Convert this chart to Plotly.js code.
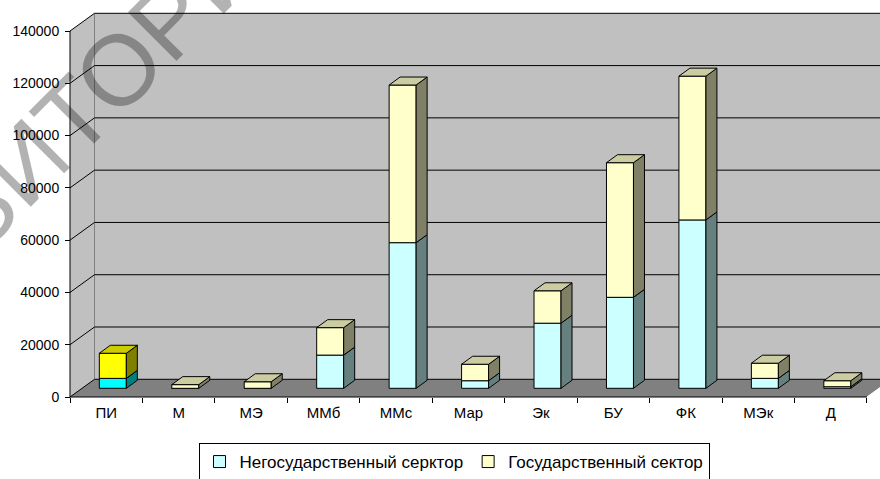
<!DOCTYPE html>
<html>
<head>
<meta charset="utf-8">
<script src="https://cdn.plot.ly/plotly-3.0.1.min.js"></script>
<style>
  html, body { margin: 0; padding: 0; background: #ffffff; }
  #chart { width: 880px; height: 479px; }
</style>
</head>
<body>
<div id="chart"></div>
<script>
// Students by programme, split by sector
const categories = ['ПИ', 'М', 'МЭ', 'ММб', 'ММс', 'Мар', 'Эк', 'БУ', 'ФК', 'МЭк', 'Д'];
const nonStateValues = [3800, 0, 0, 12700, 55700, 2900, 24900, 34800, 64400, 3800, 600];
const stateValues = [9600, 1400, 2500, 10500, 60300, 6300, 12400, 51500, 55000, 5800, 2300];
const highlightedCategories = ['ПИ'];
const seriesNames = ['Негосударственный серктор', 'Государственный сектор'];
const yTickValues = [0, 20000, 40000, 60000, 80000, 100000, 120000, 140000];
const watermarkText = 'РЕПОЗИТОРИЙ';

// ---- figure geometry (pixels) ----
const FIG_W = 880, FIG_H = 479;
const M = { l: 64, r: 0, t: 8, b: 79, autoexpand: false };
const plotW = FIG_W - M.l - M.r;
const plotH = FIG_H - M.t - M.b;
const slotPx = 72.45;              // width of one category slot
const axisInsetX = 6;              // front y-axis sits this far inside the plot area
const axisInsetY = 3;              // front x-axis sits this far above the plot bottom
const valueSpanPx = 366;           // pixel height of 0..140000
const yTop = yTickValues[yTickValues.length - 1];
const vPerPx = yTop / valueSpanPx;

const n = categories.length;
const idx = categories.map((_, i) => i);
const xMin = -0.5 - axisInsetX / slotPx;
const xMax = xMin + plotW / slotPx;
const yMin = -axisInsetY * vPerPx;
const yMax = yMin + plotH * vPerPx;

// depth of the walls and of each bar (oblique projection)
const wallDX = 24.5 / slotPx, wallDY = 17.7 * vPerPx;
const barShiftX = 6.6 / slotPx, barShiftY = 8.7 * vPerPx;
const barW = 27 / slotPx;
const barDX = 11 / slotPx, barDY = 8 * vPerPx;

const palette = {
  normal: [
    { front: '#CCFFFF', side: '#668080', top: '#A3CCCC' },
    { front: '#FFFFCC', side: '#808066', top: '#CCCCA3' }
  ],
  highlight: [
    { front: '#00FFFF', side: '#008080', top: '#00CCCC' },
    { front: '#FFFF00', side: '#808000', top: '#CCCC00' }
  ]
};

const series = [nonStateValues, stateValues];
const isHl = categories.map(c => highlightedCategories.includes(c));
const baseOf = (s, i) => (s === 0 ? 0 : nonStateValues[i]);

const traces = [];

// front faces of the stacked bars
[false, true].forEach(hl => {
  series.forEach((vals, s) => {
    const pick = idx.filter(i => isHl[i] === hl);
    const colors = hl ? palette.highlight[s] : palette.normal[s];
    traces.push({
      type: 'bar',
      name: seriesNames[s],
      showlegend: !hl,
      legendrank: s + 1,
      x: pick,
      y: pick.map(i => vals[i]),
      base: pick.map(i => baseOf(s, i)),
      width: barW,
      xaxis: 'x2', yaxis: 'y2',
      marker: { color: colors.front, line: { color: '#000000', width: 1 } },
      hoverinfo: 'skip'
    });
  });
});

// side and top faces of each segment
function face(pts, fill) {
  traces.push({
    type: 'scatter', mode: 'lines', fill: 'toself', fillcolor: fill,
    x: pts.map(p => p[0]).concat([pts[0][0]]),
    y: pts.map(p => p[1]).concat([pts[0][1]]),
    line: { color: '#000000', width: 1 },
    xaxis: 'x2', yaxis: 'y2', showlegend: false, hoverinfo: 'skip'
  });
}
idx.forEach(i => {
  const pal = isHl[i] ? palette.highlight : palette.normal;
  const xl = i - barW / 2, xr = i + barW / 2;
  let topSeg = -1;
  series.forEach((vals, s) => {
    const v = vals[i];
    if (v <= 0) return;
    const y0 = baseOf(s, i), y1 = y0 + v;
    face([[xr, y0], [xr, y1], [xr + barDX, y1 + barDY], [xr + barDX, y0 + barDY]], pal[s].side);
    topSeg = s;
  });
  if (topSeg >= 0) {
    const yT = nonStateValues[i] + stateValues[i];
    face([[xl, yT], [xl + barDX, yT + barDY], [xr + barDX, yT + barDY], [xr, yT]], pal[topSeg].top);
  }
});

// walls, floor, grid and axis lines in front-plane data units
const xL = -0.5, xR = n - 0.5;
const shapes = [];
const line = (x0, y0, x1, y1, color) => shapes.push({
  type: 'line', xref: 'x', yref: 'y', x0, y0, x1, y1, layer: 'below',
  line: { color, width: 1 }
});
shapes.push({
  type: 'path', xref: 'x', yref: 'y', layer: 'below',
  path: `M${xL},0 L${xL},${yTop} L${xL + wallDX},${yTop + wallDY} L${xL + wallDX},${wallDY} Z`,
  fillcolor: '#C0C0C0', line: { width: 0 }
});
shapes.push({
  type: 'rect', xref: 'x', yref: 'y', layer: 'below',
  x0: xL + wallDX, x1: xR + wallDX, y0: wallDY, y1: yTop + wallDY,
  fillcolor: '#C0C0C0', line: { width: 0 }
});
shapes.push({
  type: 'path', xref: 'x', yref: 'y', layer: 'below',
  path: `M${xL},0 L${xL + wallDX},${wallDY} L${xR + wallDX},${wallDY} L${xR},0 Z`,
  fillcolor: '#808080', line: { width: 0 }
});
line(xL + wallDX, wallDY, xL + wallDX, yTop + wallDY, '#808080');
yTickValues.forEach(v => {
  line(xL + wallDX, v + wallDY, xR + wallDX, v + wallDY, '#000000');
  line(xL, v, xL + wallDX, v + wallDY, '#000000');
});
line(xR, 0, xR + wallDX, wallDY, '#FFFFFF');
line(xL, 0, xL, yTop, '#000000');
line(xL, 0, xR, 0, '#000000');

const font = 'Arial, "Liberation Sans", sans-serif';

const layout = {
  width: FIG_W, height: FIG_H,
  margin: M,
  paper_bgcolor: '#ffffff',
  plot_bgcolor: 'rgba(0,0,0,0)',
  font: { family: font, color: '#000000', size: 14 },
  barmode: 'overlay',
  hovermode: false,
  showlegend: true,
  xaxis: {
    type: 'linear', range: [xMin, xMax],
    anchor: 'free', position: axisInsetY / plotH,
    tickmode: 'array', tickvals: idx, ticktext: categories, ticks: '',
    ticklabelstandoff: 5,
    tickfont: { size: 15 },
    minor: {
      tickmode: 'array', tickvals: idx.concat([n]).map(i => i - 0.5),
      ticks: 'outside', ticklen: 5, tickcolor: '#000000', tickwidth: 1, showgrid: false
    },
    showgrid: false, zeroline: false, showline: false, fixedrange: true
  },
  yaxis: {
    type: 'linear', range: [yMin, yMax],
    anchor: 'free', position: axisInsetX / plotW,
    tickmode: 'array', tickvals: yTickValues, tickformat: 'd',
    ticks: 'outside', ticklen: 5, tickcolor: '#000000', tickwidth: 1,
    ticklabelstandoff: 3,
    tickfont: { size: 14 },
    showgrid: false, zeroline: false, showline: false, fixedrange: true
  },
  xaxis2: {
    type: 'linear', overlaying: 'x', anchor: 'y2', visible: false,
    range: [xMin - barShiftX, xMax - barShiftX], fixedrange: true
  },
  yaxis2: {
    type: 'linear', overlaying: 'y', anchor: 'x2', visible: false,
    range: [yMin - barShiftY, yMax - barShiftY], fixedrange: true
  },
  shapes,
  legend: {
    orientation: 'h',
    x: (454 - M.l) / plotW, xanchor: 'center',
    y: -(443 - (FIG_H - M.b)) / plotH, yanchor: 'top',
    bordercolor: '#000000', borderwidth: 1, bgcolor: '#ffffff',
    font: { size: 17, family: font },
    traceorder: 'normal', itemclick: false, itemdoubleclick: false
  },
  annotations: [{
    text: watermarkText,
    xref: 'paper', yref: 'paper',
    x: (26 - M.l) / plotW, y: (FIG_H - M.b - 162) / plotH,
    xanchor: 'center', yanchor: 'middle',
    textangle: -45, showarrow: false,
    font: { family: font, size: 100, color: 'rgba(0,0,0,0.3)' }
  }]
};

Plotly.newPlot('chart', traces, layout, { staticPlot: true, displayModeBar: false });
</script>
</body>
</html>
